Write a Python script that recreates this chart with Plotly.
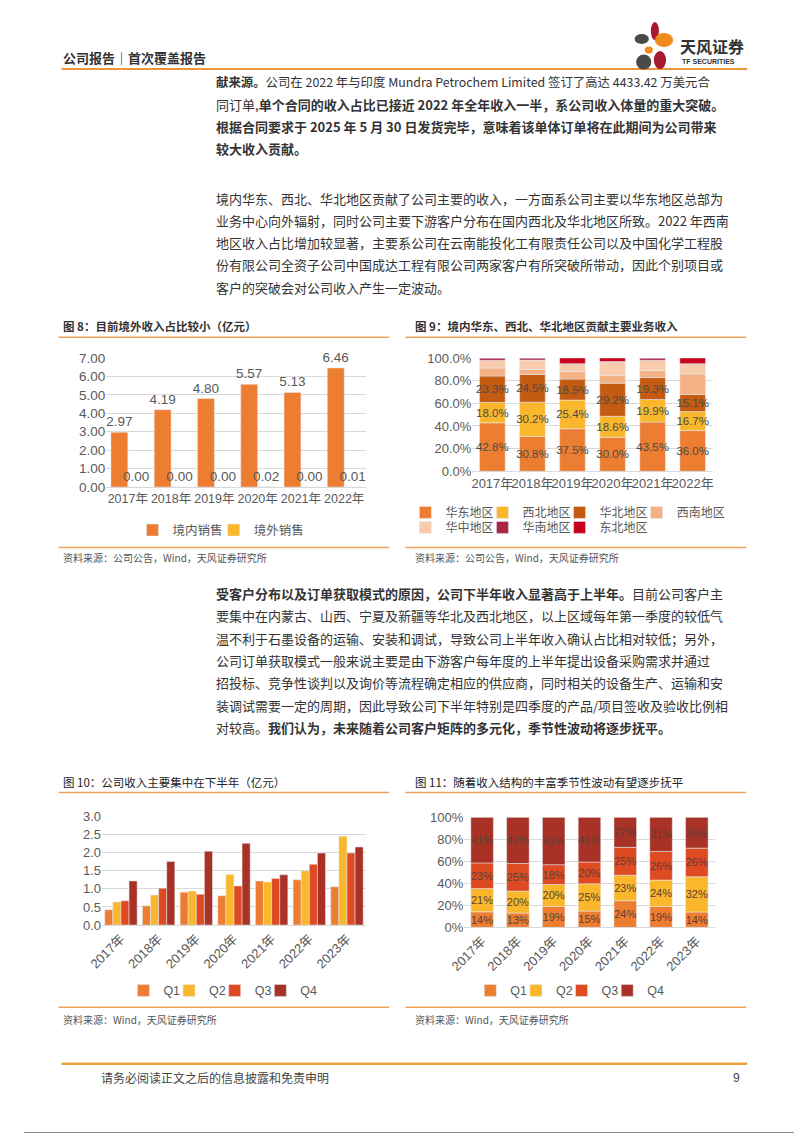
import plotly.graph_objects as go

W, H = 802, 1133
CJK = "Noto Sans CJK SC"
NUM = "Liberation Sans, Noto Sans CJK SC"
TICK = "#595959"
GRID = "#D9D9D9"
ORANGE_LINE = "#F3A15A"

# ---- data ----
years6 = ["2017年", "2018年", "2019年", "2020年", "2021年", "2022年"]
years7 = ["2017年", "2018年", "2019年", "2020年", "2021年", "2022年", "2023年"]

domestic = [2.97, 4.19, 4.80, 5.57, 5.13, 6.46]
overseas = [0.00, 0.00, 0.00, 0.02, 0.00, 0.01]

regions = ["华东地区", "西北地区", "华北地区", "西南地区", "华中地区", "华南地区", "东北地区"]
east = [42.8, 30.8, 37.5, 30.0, 43.5, 36.0]
northwest = [18.0, 30.2, 25.4, 18.6, 19.9, 16.7]
north = [23.3, 24.5, 18.5, 29.2, 19.3, 15.1]
southwest = [7.0, 4.5, 6.7, 7.0, 6.3, 18.0]
central = [6.9, 8.2, 6.9, 12.0, 9.0, 9.2]
south = [2.0, 1.8, 0.0, 0.0, 2.0, 0.0]
northeast = [0.0, 0.0, 5.0, 3.2, 0.0, 5.0]

quarters = ["Q1", "Q2", "Q3", "Q4"]
q1 = [0.42, 0.53, 0.91, 0.81, 1.22, 1.25, 1.06]
q2 = [0.64, 0.83, 0.94, 1.40, 1.19, 1.50, 2.46]
q3 = [0.67, 1.02, 0.85, 1.08, 1.29, 1.68, 1.99]
q4 = [1.22, 1.76, 2.04, 2.26, 1.39, 1.99, 2.16]

share_q1 = [14, 13, 19, 15, 24, 19, 14]
share_q2 = [21, 20, 20, 25, 23, 24, 32]
share_q3 = [23, 25, 18, 20, 25, 26, 26]
share_q4 = [41, 42, 43, 41, 27, 31, 28]


# positions below are page pixels, mapped to paper fractions
def X(p):
    return (p - 26) / 0.965 / W


def Y(p):
    return 1 - (p - 15) / 0.986 / H


def stack_base(series):
    bases, run = [], [0] * len(series[0])
    for s in series:
        bases.append(list(run))
        run = [a + b for a, b in zip(run, s)]
    return bases, run


fig = go.Figure()
n_leg = [0]
legends = {}


def new_legend(x, y, size=12.5):
    n_leg[0] += 1
    key = "legend" if n_leg[0] == 1 else f"legend{n_leg[0]}"
    legends[key] = dict(x=X(x), y=Y(y), xanchor="left", yanchor="middle", orientation="h",
                        bgcolor="rgba(0,0,0,0)", itemwidth=30, itemclick=False,
                        font=dict(size=size, color=TICK, family=NUM))
    return key


# ---- chart 8: grouped bars ----
for i, (name, vals, col, lx) in enumerate([("境内销售", domestic, "#ED7D31", 133),
                                           ("境外销售", overseas, "#FAB72B", 213)]):
    fig.add_trace(go.Bar(
        x=years6, y=vals, name=name, marker_color=col, width=0.39, offset=-0.39 + i * 0.39,
        text=[f"{v:.2f}" for v in vals], textposition="outside", cliponaxis=False,
        constraintext="none", textangle=0,
        textfont=dict(size=13.5, color=TICK, family=NUM),
        xaxis="x", yaxis="y", legend=new_legend(lx, 530),
    ))

# ---- chart 9: stacked share by region ----
reg_series = [east, northwest, north, southwest, central, south, northeast]
reg_colors = ["#ED7D31", "#FAB72B", "#C55A11", "#F4B183", "#F8CBAD", "#A8243F", "#C8001E"]
reg_leg = [(402, 512), (478, 512), (554, 512), (630, 512), (402, 527), (478, 527), (554, 527)]
bases, _ = stack_base(reg_series)
for i, (name, vals, col) in enumerate(zip(regions, reg_series, reg_colors)):
    fig.add_trace(go.Bar(
        x=years6, y=vals, base=bases[i], name=name, marker_color=col, width=0.64,
        text=[f"{v:.1f}%" for v in vals] if i < 3 else None,
        textposition="inside" if i < 3 else "none", insidetextanchor="middle",
        constraintext="none", textangle=0,
        textfont=dict(size=11.5, color="#4a4a4a", family=NUM),
        xaxis="x2", yaxis="y2", legend=new_legend(*reg_leg[i], size=12),
    ))

# ---- chart 10: quarterly revenue ----
q_colors = ["#ED7D31", "#FAB72B", "#DE4A22", "#A93226"]
for i, (name, vals) in enumerate(zip(quarters, [q1, q2, q3, q4])):
    fig.add_trace(go.Bar(
        x=years7, y=vals, name=name, marker_color=q_colors[i], width=0.215, offset=-0.43 + i * 0.215,
        xaxis="x3", yaxis="y3", legend=new_legend(124 + i * 45, 990),
    ))

# ---- chart 11: quarterly share ----
shares = [share_q1, share_q2, share_q3, share_q4]
_, totals = stack_base(shares)
norm = [[v / t * 100 for v, t in zip(s, totals)] for s in shares]
nbases, _ = stack_base(norm)
for i, name in enumerate(quarters):
    fig.add_trace(go.Bar(
        x=years7, y=norm[i], base=nbases[i], name=name, marker_color=q_colors[i], width=0.63,
        text=[f"{v}%" for v in shares[i]], textposition="inside", insidetextanchor="middle",
        constraintext="none", textangle=0,
        textfont=dict(size=11, color="#5a4038", family=NUM),
        hoverinfo="skip", xaxis="x4", yaxis="y4", legend=new_legend(466 + i * 45, 990),
    ))


def xax(x0, x1, anchor, angle=0, size=13):
    return dict(domain=[X(x0), X(x1)], anchor=anchor, type="category", showgrid=False,
                showline=True, linecolor=GRID, ticks="", tickangle=angle,
                tickfont=dict(size=size, color=TICK, family=NUM), fixedrange=True)


def yax(y0, y1, anchor, rng, dtick, fmt, suffix="", size=13):
    return dict(domain=[Y(y0), Y(y1)], anchor=anchor, range=rng, dtick=dtick, tickformat=fmt,
                ticksuffix=suffix, showgrid=True, gridcolor=GRID, zeroline=False, showline=False,
                ticks="", tickfont=dict(size=size, color=TICK, family=NUM), fixedrange=True)


# ---- page text ----
def txt(x, y, s, size=13.0, color="#333333", anchor="left", family=CJK):
    return dict(x=X(x), y=Y(y), xref="paper", yref="paper", text=s, showarrow=False,
                xanchor=anchor, yanchor="middle", font=dict(size=size, color=color, family=family))


para1 = [
    "<b>献来源。</b>公司在 2022 年与印度 Mundra Petrochem Limited 签订了高达 4433.42 万美元合",
    "同订单,<b>单个合同的收入占比已接近 2022 年全年收入一半，系公司收入体量的重大突破。</b>",
    "<b>根据合同要求于 2025 年 5 月 30 日发货完毕，意味着该单体订单将在此期间为公司带来</b>",
    "<b>较大收入贡献。</b>",
]
para2 = [
    "境内华东、西北、华北地区贡献了公司主要的收入，一方面系公司主要以华东地区总部为",
    "业务中心向外辐射，同时公司主要下游客户分布在国内西北及华北地区所致。2022 年西南",
    "地区收入占比增加较显著，主要系公司在云南能投化工有限责任公司以及中国化学工程股",
    "份有限公司全资子公司中国成达工程有限公司两家客户有所突破所带动，因此个别项目或",
    "客户的突破会对公司收入产生一定波动。",
]
para3 = [
    "<b>受客户分布以及订单获取模式的原因，公司下半年收入显著高于上半年。</b>目前公司客户主",
    "要集中在内蒙古、山西、宁夏及新疆等华北及西北地区，以上区域每年第一季度的较低气",
    "温不利于石墨设备的运输、安装和调试，导致公司上半年收入确认占比相对较低；另外，",
    "公司订单获取模式一般来说主要是由下游客户每年度的上半年提出设备采购需求并通过",
    "招投标、竞争性谈判以及询价等流程确定相应的供应商，同时相关的设备生产、运输和安",
    "装调试需要一定的周期，因此导致公司下半年特别是四季度的产品/项目签收及验收比例相",
    "对较高。<b>我们认为，未来随着公司客户矩阵的多元化，季节性波动将逐步抚平。</b>",
]

ann = [txt(62, 57, "<b>公司报告｜首次覆盖报告</b>", size=13),
       txt(671, 46, "<b>天风证券</b>", size=16),
       txt(673, 61, "<b>TF SECURITIES</b>", size=7, family=NUM)]
for i, line in enumerate(para1):
    ann.append(txt(213, 82 + i * 22, line, size=12.4 if i == 0 else 13.0))
for i, line in enumerate(para2):
    ann.append(txt(213, 198 + i * 22.25, line))
for i, line in enumerate(para3):
    ann.append(txt(213, 593 + i * 22.3, line))
ann += [
    txt(62, 326, "<b>图 8：目前境外收入占比较小（亿元）</b>", size=11.5),
    txt(410, 326, "<b>图 9：境内华东、西北、华北地区贡献主要业务收入</b>", size=11.5),
    txt(62, 781, "图 10：公司收入主要集中在下半年（亿元）", size=11.5, color="#222222"),
    txt(410, 781, "图 11：随着收入结构的丰富季节性波动有望逐步抚平", size=11.5, color="#222222"),
    txt(62, 557, "资料来源：公司公告，Wind，天风证券研究所", size=10, color="#555555"),
    txt(410, 557, "资料来源：公司公告，Wind，天风证券研究所", size=10, color="#555555"),
    txt(62, 1019, "资料来源：Wind，天风证券研究所", size=10, color="#555555"),
    txt(410, 1019, "资料来源：Wind，天风证券研究所", size=10, color="#555555"),
    txt(100, 1077, "请务必阅读正文之后的信息披露和免责申明", size=12, color="#444444"),
    txt(734, 1077, "9", size=12, color="#444444", anchor="right", family=NUM),
]


def hline(x0, x1, y, color=ORANGE_LINE, width=1.5):
    return dict(type="line", xref="paper", yref="paper", x0=X(x0), x1=X(x1), y0=Y(y), y1=Y(y),
                line=dict(color=color, width=width))


def petal(cx, cy, rx, ry, color):
    return dict(type="circle", xref="paper", yref="paper", x0=X(cx - rx), x1=X(cx + rx),
                y0=Y(cy + ry), y1=Y(cy - ry), fillcolor=color, line=dict(width=0))


edge = dict(color="#8c8c8c", width=2)
shapes = [
    dict(type="line", xref="paper", yref="paper", x0=1, x1=1, y0=0, y1=1, line=edge),
    dict(type="line", xref="paper", yref="paper", x0=0, x1=1, y0=0, y1=0, line=edge),
    hline(63, 739, 69, "#EE9436", 2),
    hline(60, 386, 337), hline(402, 738, 337),
    hline(60, 386, 547), hline(402, 738, 547),
    hline(60, 386, 792), hline(402, 738, 792),
    hline(60, 386, 1006.5), hline(402, 738, 1006.5),
    hline(63, 739, 1063, "#E9A23B", 2.5),
    petal(648, 31, 4, 9, "#A6192E"),
    petal(657, 40, 9, 7, "#F08A1C"),
    petal(635, 39, 7, 5, "#4A4A4A"),
    petal(642, 50, 4, 3.5, "#F08A1C"),
    petal(637, 62, 7.5, 7.5, "#4A4A4A"),
    petal(653, 60, 6, 9, "#A6192E"),
]

fig.update_layout(
    width=W, height=H, margin=dict(l=0, r=0, t=0, b=0),
    paper_bgcolor="white", plot_bgcolor="white",
    barmode="overlay", showlegend=True,
    font=dict(family=NUM, color=TICK),
    xaxis=xax(107, 363, "y", size=12.5),
    yaxis=yax(486.7, 357.7, "x", [0, 7], 1, ".2f", size=13.5),
    xaxis2=xax(468, 705, "y2"),
    yaxis2=yax(471, 357.7, "x2", [0, 100], 20, ".1f", "%"),
    xaxis3=xax(103, 363, "y3", -45),
    yaxis3=yax(924.3, 816, "x3", [0, 3], 0.5, ".1f"),
    xaxis4=xax(460, 707, "y4", -45),
    yaxis4=yax(926.7, 816.7, "x4", [0, 100], 20, ".0f", "%"),
    annotations=ann,
    shapes=shapes,
    **legends,
)

fig.write_html("out.html")
